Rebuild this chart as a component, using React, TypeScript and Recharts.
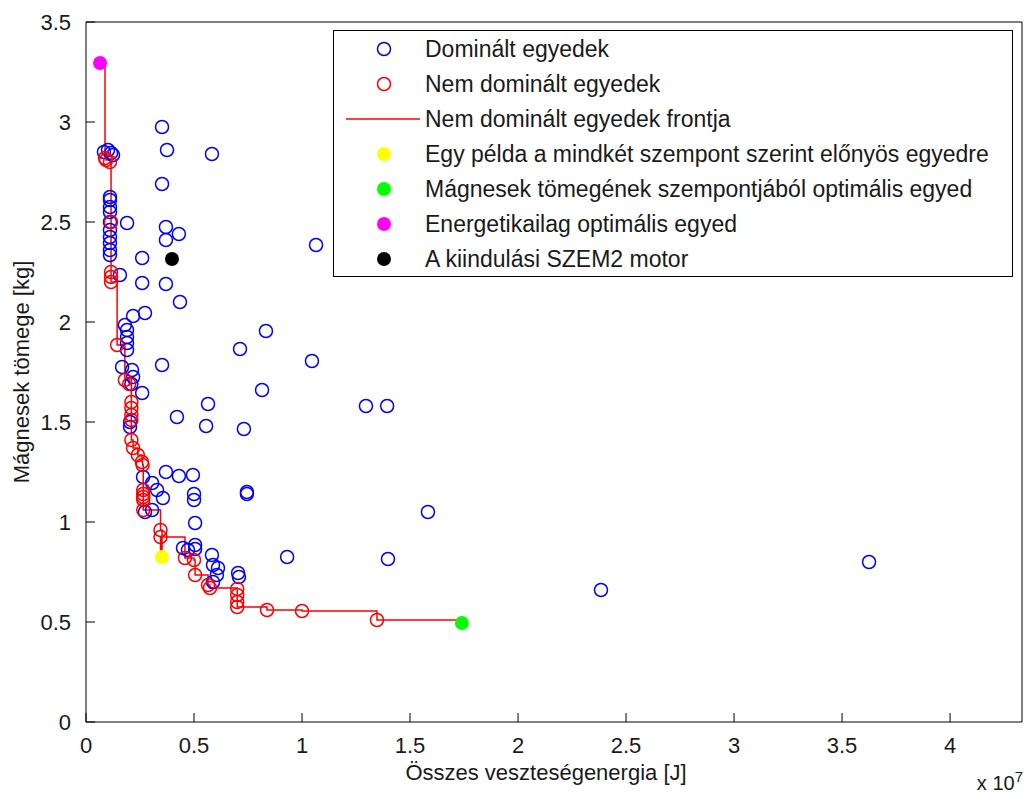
import React from 'react';
import { ComposedChart, Scatter, Line, XAxis, YAxis } from 'recharts';

// x in 1e7 J, y in kg
const dominated: [number, number][] = [
  [0.083, 2.85], [0.102, 2.86], [0.116, 2.845], [0.125, 2.835],
  [0.111, 2.625], [0.111, 2.61], [0.111, 2.575], [0.111, 2.55], [0.111, 2.5], [0.111, 2.46],
  [0.111, 2.425], [0.111, 2.395], [0.111, 2.36], [0.111, 2.335],
  [0.19, 2.495], [0.157, 2.235],
  [0.352, 2.975], [0.375, 2.86], [0.583, 2.84], [0.352, 2.69], [0.37, 2.475], [0.37, 2.41],
  [0.43, 2.44], [0.26, 2.32], [1.065, 2.385], [0.26, 2.195], [0.37, 2.19], [0.435, 2.1],
  [0.218, 2.03], [0.273, 2.045],
  [0.18, 1.985], [0.19, 1.96], [0.19, 1.925], [0.19, 1.895], [0.19, 1.86], [0.713, 1.865],
  [0.833, 1.955], [1.046, 1.805], [0.352, 1.785], [0.167, 1.775], [0.213, 1.76], [0.218, 1.725],
  [0.21, 1.69], [0.26, 1.645], [0.815, 1.66], [0.565, 1.59], [1.296, 1.58], [1.394, 1.58],
  [0.421, 1.525], [0.556, 1.48], [0.731, 1.465], [0.204, 1.5], [0.204, 1.475],
  [0.264, 1.225], [0.37, 1.25], [0.43, 1.23], [0.495, 1.235], [0.306, 1.195], [0.329, 1.16],
  [0.356, 1.12], [0.5, 1.14], [0.5, 1.11], [0.745, 1.15], [0.745, 1.14], [0.306, 1.06],
  [0.273, 1.05], [1.583, 1.05], [0.505, 0.995],
  [0.449, 0.87], [0.505, 0.885], [0.505, 0.865], [0.472, 0.86], [0.583, 0.835], [0.588, 0.785],
  [0.611, 0.77], [0.606, 0.735], [0.588, 0.7], [0.704, 0.745], [0.708, 0.725], [0.931, 0.825],
  [1.398, 0.815], [2.384, 0.66], [3.625, 0.8],
];

const nonDominated: [number, number][] = [
  [0.088, 2.82], [0.093, 2.81], [0.111, 2.8], [0.116, 2.5], [0.116, 2.25], [0.116, 2.225],
  [0.116, 2.2], [0.144, 1.885], [0.18, 1.71], [0.2, 1.69], [0.21, 1.6], [0.21, 1.57],
  [0.21, 1.535], [0.21, 1.51], [0.21, 1.41], [0.218, 1.37], [0.24, 1.335], [0.259, 1.3],
  [0.262, 1.285], [0.265, 1.16], [0.265, 1.14], [0.265, 1.125], [0.265, 1.11], [0.265, 1.06],
  [0.345, 0.96], [0.345, 0.925], [0.458, 0.82], [0.5, 0.81], [0.505, 0.735], [0.565, 0.685],
  [0.574, 0.67], [0.7, 0.665], [0.7, 0.635], [0.7, 0.6], [0.7, 0.575], [0.838, 0.56],
  [1.0, 0.555], [1.347, 0.51],
];

const example: [number, number] = [0.352, 0.825];
const massOptimal: [number, number] = [1.74, 0.495];
const energyOptimal: [number, number] = [0.065, 3.295];
const original: [number, number] = [0.398, 2.315];

const xTicks = [0, 0.5, 1, 1.5, 2, 2.5, 3, 3.5, 4];
const yTicks = [0, 0.5, 1, 1.5, 2, 2.5, 3, 3.5];

const legendItems = [
  { label: 'Dominált egyedek', kind: 'open', color: '#0000ff' },
  { label: 'Nem dominált egyedek', kind: 'open', color: '#ff0000' },
  { label: 'Nem dominált egyedek frontja', kind: 'line', color: '#ff0000' },
  { label: 'Egy példa a mindkét szempont szerint előnyös egyedre', kind: 'dot', color: '#ffff00' },
  { label: 'Mágnesek tömegének szempontjából optimális egyed', kind: 'dot', color: '#00ff00' },
  { label: 'Energetikailag optimális egyed', kind: 'dot', color: '#ff00ff' },
  { label: 'A kiindulási SZEM2 motor', kind: 'dot', color: '#000000' },
];

const toPts = (arr: [number, number][]) => arr.map(([x, y]) => ({ x, y }));

const front = toPts([energyOptimal, ...nonDominated.slice(0, 25), example, ...nonDominated.slice(25), massOptimal]);

const FONT = '"Liberation Sans", Arial, sans-serif';
const tickStyle = { fontSize: 22, fontFamily: FONT, fill: '#1a1a1a' };

const openCircle = (color: string) => (p: any) => (
  <circle cx={p.cx} cy={p.cy} r={6.5} fill="none" stroke={color} strokeWidth={1.5} />
);
const dot = (color: string) => (p: any) => <circle cx={p.cx} cy={p.cy} r={7} fill={color} />;

export default function App() {
  return (
    <div style={{ position: 'absolute', left: 0, top: 0, width: 1027, height: 796, background: '#fff' }}>
      <ComposedChart width={1027} height={796} margin={{ top: 21, right: 4, bottom: 34, left: 26 }}>
        <XAxis
          type="number"
          dataKey="x"
          domain={[0, 4.333]}
          ticks={xTicks}
          allowDataOverflow
          height={40}
          tickSize={-9}
          tickMargin={24}
          tick={tickStyle}
          stroke="#000"
        />
        <XAxis
          xAxisId="top"
          orientation="top"
          type="number"
          dataKey="x"
          domain={[0, 4.333]}
          ticks={xTicks}
          allowDataOverflow
          height={1}
          tickSize={-9}
          tick={false}
          stroke="#000"
        />
        <YAxis
          type="number"
          dataKey="y"
          domain={[0, 3.5]}
          ticks={yTicks}
          allowDataOverflow
          width={60}
          tickSize={-9}
          tickMargin={24}
          tick={tickStyle}
          stroke="#000"
        />
        <YAxis
          yAxisId="right"
          orientation="right"
          type="number"
          dataKey="y"
          domain={[0, 3.5]}
          ticks={yTicks}
          allowDataOverflow
          width={1}
          tickSize={-9}
          tick={false}
          stroke="#000"
        />
        <Scatter data={toPts(dominated)} shape={openCircle('#0000ff')} isAnimationActive={false} />
        <Scatter data={toPts(nonDominated)} shape={openCircle('#ff0000')} isAnimationActive={false} />
        <Line
          data={front}
          dataKey="y"
          type="stepAfter"
          stroke="#ff0000"
          strokeWidth={1.5}
          dot={false}
          activeDot={false}
          isAnimationActive={false}
        />
        <Scatter data={toPts([example])} shape={dot('#ffff00')} isAnimationActive={false} />
        <Scatter data={toPts([massOptimal])} shape={dot('#00ff00')} isAnimationActive={false} />
        <Scatter data={toPts([energyOptimal])} shape={dot('#ff00ff')} isAnimationActive={false} />
        <Scatter data={toPts([original])} shape={dot('#000000')} isAnimationActive={false} />
      </ComposedChart>

      <div
        style={{
          position: 'absolute',
          left: 333,
          top: 30,
          width: 680,
          height: 247,
          boxSizing: 'border-box',
          border: '1.5px solid #000',
          background: '#fff',
          fontFamily: FONT,
          fontSize: 23,
          color: '#1a1a1a',
        }}
      >
        {legendItems.map((item, i) => (
          <div key={item.label} style={{ position: 'absolute', left: 0, top: 1 + i * 35, height: 34, width: '100%' }}>
            <svg width={90} height={34} style={{ position: 'absolute', left: 0, top: 0 }}>
              {item.kind === 'open' && <circle cx={50} cy={17} r={6.5} fill="none" stroke={item.color} strokeWidth={1.5} />}
              {item.kind === 'dot' && <circle cx={50} cy={17} r={7} fill={item.color} />}
              {item.kind === 'line' && <line x1={12} x2={86} y1={17} y2={17} stroke={item.color} strokeWidth={1.5} />}
            </svg>
            <span style={{ position: 'absolute', left: 91, top: 0, lineHeight: '34px', whiteSpace: 'nowrap' }}>
              {item.label}
            </span>
          </div>
        ))}
      </div>

      <div
        style={{
          position: 'absolute',
          left: 22,
          top: 372,
          transform: 'translate(-50%, -50%) rotate(-90deg)',
          fontFamily: FONT,
          fontSize: 22,
          color: '#1a1a1a',
          whiteSpace: 'nowrap',
        }}
      >
        Mágnesek tömege [kg]
      </div>
      <div
        style={{
          position: 'absolute',
          left: 546,
          top: 773,
          transform: 'translate(-50%, -50%)',
          fontFamily: FONT,
          fontSize: 22,
          color: '#1a1a1a',
          whiteSpace: 'nowrap',
        }}
      >
        Összes veszteségenergia [J]
      </div>
      <div
        style={{
          position: 'absolute',
          right: 4,
          top: 768,
          fontFamily: FONT,
          fontSize: 20,
          color: '#1a1a1a',
          whiteSpace: 'nowrap',
        }}
      >
        x 10<sup style={{ fontSize: 15 }}>7</sup>
      </div>
    </div>
  );
}
